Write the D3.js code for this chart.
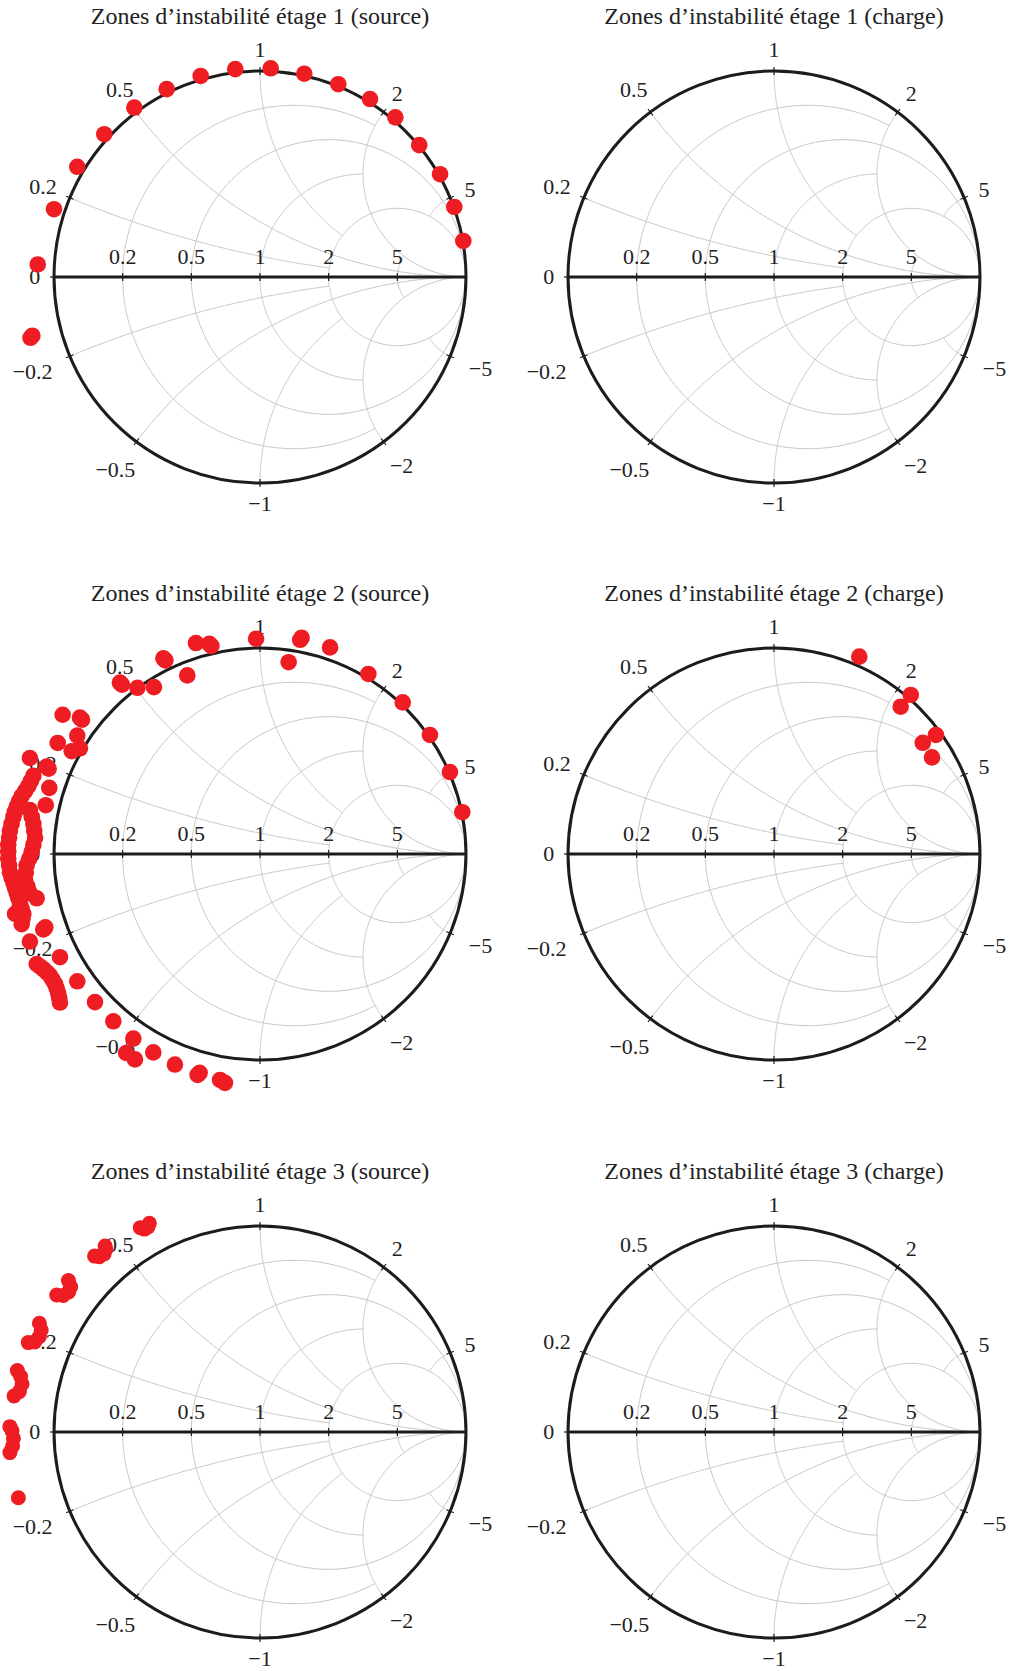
<!DOCTYPE html>
<meta charset="utf-8">
<style>
  body { margin: 0; background: #fff; }
  text { font-family: "Liberation Serif", "Times New Roman", serif; fill: #222; }
  .grid path { fill: none; stroke: #c6c6c6; stroke-width: 1; }
  .border { fill: none; stroke: #1c1c1c; stroke-width: 3; }
  .axisline { stroke: #1c1c1c; stroke-width: 3; }
  .tick { stroke: #1c1c1c; stroke-width: 1.2; }
  .pt { fill: #ee1d23; }
</style>
<svg width="1012" height="1671"></svg>
<script src="https://d3js.org/d3.v7.min.js"></script>
<script>
// chart titles, row by row
var titles = [
  "Zones d\u2019instabilit\u00e9 \u00e9tage 1 (source)", "Zones d\u2019instabilit\u00e9 \u00e9tage 1 (charge)",
  "Zones d\u2019instabilit\u00e9 \u00e9tage 2 (source)", "Zones d\u2019instabilit\u00e9 \u00e9tage 2 (charge)",
  "Zones d\u2019instabilit\u00e9 \u00e9tage 3 (source)", "Zones d\u2019instabilit\u00e9 \u00e9tage 3 (charge)"
];

// grid values (normalised resistance / reactance)
var rTicks = [0.2, 0.5, 1, 2, 5];
var xTicks = [0.2, 0.5, 1, 2, 5];
// where each grid line stops (fancy grid): r circles stop at |x| = rStop, x arcs at r = xStop
var rStop = [2, Infinity, 2, Infinity, 2];
var xStop = [2, Infinity, 2, Infinity, 2];
var xLabels = [0, 0.2, 0.5, 1, 2, 5, -0.2, -0.5, -1, -2, -5];

// unstable points, reflection coefficient [re, im]
var s1Source = [
  [-1.114, -0.295], [-1.105, -0.285], [-1.079, 0.061], [-1.000, 0.329], [-0.887, 0.535],
  [-0.756, 0.693], [-0.610, 0.822], [-0.453, 0.912], [-0.288, 0.976], [-0.120, 1.009],
  [0.052, 1.013], [0.215, 0.987], [0.380, 0.936], [0.534, 0.864], [0.657, 0.775],
  [0.773, 0.640], [0.874, 0.499], [0.943, 0.340], [0.987, 0.175]
];
var s1Charge = [];
var s2Source = [
  [-0.311, 1.024], [-0.246, 1.020], [-0.236, 1.010], [-0.019, 1.045], [0.202, 1.050], [0.195, 1.040],
  [0.340, 1.003], [0.139, 0.931], [0.526, 0.874], [0.693, 0.736], [0.825, 0.578],
  [0.922, 0.398], [0.982, 0.203], [-0.469, 0.950], [-0.459, 0.940], [-0.353, 0.867],
  [-0.680, 0.832], [-0.670, 0.822], [-0.595, 0.807], [-0.515, 0.810],
  [-0.958, 0.676], [-0.874, 0.662], [-0.864, 0.652], [-0.887, 0.575], [-0.982, 0.539],
  [-0.914, 0.499], [-0.874, 0.513], [-1.036, 0.424], [-1.026, 0.414], [-1.117, 0.466],
  [-1.023, 0.321], [-1.040, 0.237],
  [-1.100, 0.380], [-1.112, 0.355], [-1.124, 0.331], [-1.140, 0.305], [-1.157, 0.281],
  [-1.170, 0.255], [-1.181, 0.230], [-1.190, 0.205], [-1.197, 0.180], [-1.206, 0.146],
  [-1.214, 0.113], [-1.218, 0.080], [-1.222, 0.045], [-1.222, 0.012], [-1.222, -0.022],
  [-1.218, -0.055], [-1.214, -0.089], [-1.206, -0.115], [-1.197, -0.140], [-1.189, -0.165],
  [-1.181, -0.190], [-1.173, -0.215], [-1.165, -0.240], [-1.157, -0.265], [-1.149, -0.291],
  [-1.153, -0.316], [-1.157, -0.341],
  [-1.117, 0.213], [-1.108, 0.180], [-1.100, 0.146], [-1.096, 0.112], [-1.092, 0.079],
  [-1.100, 0.045], [-1.108, 0.012], [-1.120, -0.022], [-1.133, -0.055], [-1.137, -0.090],
  [-1.141, -0.123], [-1.129, -0.157], [-1.117, -0.190], [-1.084, -0.215],
  [-1.173, -0.274], [-1.189, -0.291],
  [-1.052, -0.366], [-1.042, -0.356], [-1.117, -0.425], [-0.971, -0.501],
  [-1.084, -0.534], [-1.067, -0.547], [-1.050, -0.560], [-1.034, -0.575], [-1.019, -0.590],
  [-1.007, -0.610], [-0.995, -0.630], [-0.987, -0.652], [-0.980, -0.675], [-0.975, -0.698], [-0.971, -0.721],
  [-0.887, -0.618], [-0.801, -0.719], [-0.712, -0.812], [-0.615, -0.896],
  [-0.650, -0.966], [-0.607, -0.997], [-0.518, -0.963], [-0.413, -1.022],
  [-0.303, -1.072], [-0.293, -1.062], [-0.194, -1.097], [-0.170, -1.111]
];
var s2Charge = [
  [0.414, 0.958], [0.664, 0.772], [0.615, 0.715], [0.786, 0.578], [0.722, 0.540], [0.767, 0.469]
];
var s3Source = [
  [-0.581, 0.992], [-0.561, 0.985], [-0.544, 0.995], [-0.537, 1.013],
  [-0.803, 0.854], [-0.780, 0.851], [-0.757, 0.864], [-0.748, 0.887], [-0.752, 0.903],
  [-0.987, 0.665], [-0.955, 0.663], [-0.929, 0.680], [-0.919, 0.705], [-0.930, 0.735],
  [-1.125, 0.434], [-1.094, 0.437], [-1.071, 0.463], [-1.062, 0.495], [-1.071, 0.528],
  [-1.194, 0.175], [-1.168, 0.196], [-1.155, 0.233], [-1.162, 0.269], [-1.178, 0.298],
  [-1.214, -0.100], [-1.201, -0.068], [-1.197, -0.031], [-1.204, 0.006], [-1.214, 0.026],
  [-1.173, -0.319]
];
var s3Charge = [];

var series = [s1Source, s1Charge, s2Source, s2Charge, s3Source, s3Charge];

var colX = [260, 774], rowY = [277, 854, 1432], R = 206;
var svg = d3.select("svg");

// z -> gamma
function gam(r, x) {
  var dr = r + 1, d = dr * dr + x * x;
  return [((r - 1) * dr + x * x) / d, (x * dr - (r - 1) * x) / d];
}

// rough label width, em units like the original math font
function labelWidth(s, size) {
  var w = 0;
  for (var i = 0; i < s.length; i++) w += s[i] === "." ? 0.278 : s[i] === "\u2212" ? 0.778 : 0.5;
  return w * size;
}

function drawChart(k) {
  var cx = colX[k % 2], cy = rowY[Math.floor(k / 2)];
  var sx = d3.scaleLinear().domain([-1, 1]).range([cx - R, cx + R]);
  var sy = d3.scaleLinear().domain([-1, 1]).range([cy + R, cy - R]);
  var line = d3.line().x(function(d) { return sx(d[0]); }).y(function(d) { return sy(d[1]); });
  var g = svg.append("g");

  // grid
  var grid = g.append("g").attr("class", "grid");
  rTicks.forEach(function(r, i) {
    var lim = Math.atan(rStop[i]), pts = [];
    for (var t = -lim; t <= lim + 1e-9; t += lim / 200) pts.push(gam(r, Math.tan(t)));
    grid.append("path").attr("d", line(pts));
  });
  xTicks.forEach(function(x, i) {
    var lim = Math.atan(xStop[i]);
    [x, -x].forEach(function(xx) {
      var pts = [];
      for (var t = 0; t <= lim + 1e-9; t += lim / 200) pts.push(gam(Math.tan(t), xx));
      grid.append("path").attr("d", line(pts));
    });
  });

  // border + real axis
  g.append("circle").attr("class", "border").attr("cx", sx(0)).attr("cy", sy(0)).attr("r", R);
  g.append("line").attr("class", "axisline")
    .attr("x1", sx(-1)).attr("x2", sx(1)).attr("y1", sy(0)).attr("y2", sy(0));

  // real axis ticks + labels
  rTicks.forEach(function(r) {
    var p = gam(r, 0);
    g.append("line").attr("class", "tick")
      .attr("x1", sx(p[0])).attr("x2", sx(p[0])).attr("y1", sy(0) - 4).attr("y2", sy(0) + 4);
    g.append("text").attr("x", sx(p[0])).attr("y", sy(0) - 13.5)
      .attr("text-anchor", "middle").attr("font-size", 22).text(String(r));
  });

  // imaginary ticks + labels around the border
  xLabels.forEach(function(x) {
    var p = gam(0, x), a = Math.atan2(-p[1], p[0]);
    var c = Math.cos(a), s = Math.sin(a);
    g.append("line").attr("class", "tick")
      .attr("x1", cx + (R - 4) * c).attr("y1", cy + (R - 4) * s)
      .attr("x2", cx + (R + 4) * c).attr("y2", cy + (R + 4) * s);
    var lab = String(x).replace("-", "\u2212");
    var w = labelWidth(lab, 21), h = 14.2;
    var dist = R + 14 + Math.abs(c) * w / 2 + Math.abs(s) * h / 2 + (x < 0 ? 4 * Math.abs(c) : 0);
    g.append("text").attr("text-anchor", "middle").attr("font-size", 22)
      .attr("x", cx + dist * c).attr("y", cy + dist * s + h / 2).text(lab);
  });

  // title
  g.append("text").attr("x", cx).attr("y", cy - 253).attr("text-anchor", "middle")
    .attr("font-size", 24).text(titles[k]);

  // points
  g.append("g").selectAll("circle").data(series[k]).enter().append("circle")
    .attr("class", "pt")
    .attr("cx", function(d) { return sx(d[0]); })
    .attr("cy", function(d) { return sy(d[1]); })
    .attr("r", k === 4 ? 7.5 : 8.3);
}

for (var k = 0; k < 6; k++) drawChart(k);
</script>
